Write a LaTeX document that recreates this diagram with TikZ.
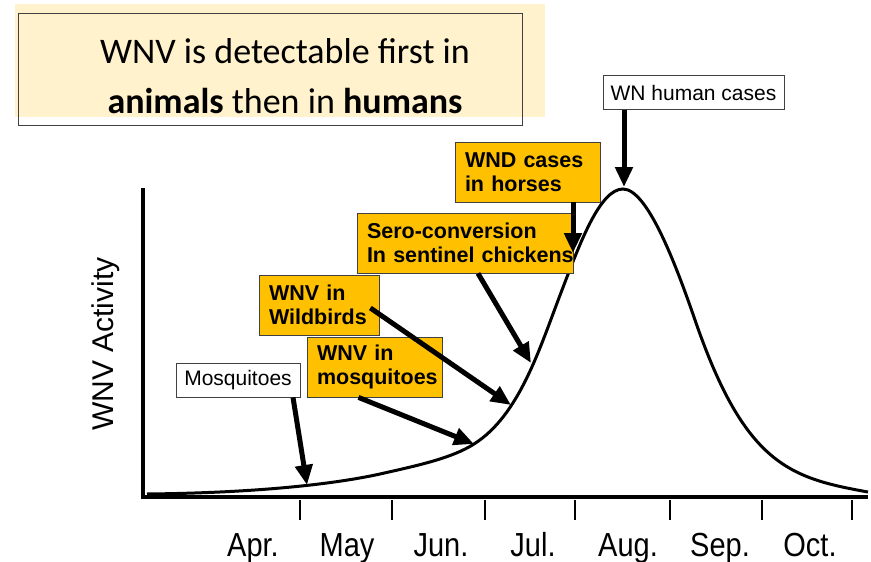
\documentclass[tikz,border=0pt]{standalone}
\usepackage{fontspec}
\setmainfont{Liberation Sans}
\newfontfamily\calibri{Carlito}
\usepackage{xcolor}
\usepackage{tikz}
\usetikzlibrary{
arrows.meta,
positioning,
calc
}
\definecolor{wnvgold}{HTML}{FFC000}
\definecolor{wnvcream}{HTML}{FFF2CC}
\definecolor{wnvedge}{HTML}{404040}

\begin{document}
\begin{tikzpicture}[
  x=1pt, y=-1pt,
  >={Triangle[length=20pt,width=17pt]},
  tag/.style={draw=wnvedge, fill=white, line width=0.8pt, minimum height=34pt, inner xsep=6pt, font=\fontsize{21}{23}\selectfont},
  alert/.style={draw=wnvedge, fill=wnvgold, line width=0.8pt, minimum height=60pt, inner xsep=10pt, align=left, font=\fontsize{21.5}{24.5}\selectfont\bfseries},
  pointer/.style={->, line width=5pt},
  axisline/.style={line width=3.5pt},
  tickmark/.style={line width=1.6pt},
  month/.style={font=\fontsize{29}{31}\selectfont, anchor=base}
]
\useasboundingbox (0,0) rectangle (871,562);

% Title
\fill[wnvcream] (15,4) rectangle (545,117);
\draw[wnvedge, line width=0.8pt] (18,13) rectangle (522,125);
\node[font=\calibri\fontsize{36}{50}\selectfont, align=center] (title) at (285,76) {WNV is detectable first in\\\textbf{animals} then in \textbf{humans}};

% Axes
\draw[axisline] (143,188) -- (143,497);
\draw[axisline] (141,497) -- (868,497);
\foreach \x in {300,392,485,575,670,762,852}
  \draw[tickmark] (\x,500) -- (\x,520);
\foreach \m/\x [count=\i] in {Apr./253, May/347, Jun./441, Jul./533, Aug./628, Sep./720, Oct./810}
  \node[month] (m\i) at (\x,556) {\scalebox{1}[1.15]{\m}};
\node[rotate=90, font=\fontsize{30}{32}\selectfont] (ylabel) at (106,344) {WNV Activity};

% Activity curve
\draw[line width=3pt] (147,494)
  .. controls (250,493) and (330,485) .. (380,474)
  .. controls (420,465) and (452,458) .. (474,444)
  .. controls (520,415) and (540,347) .. (562,290)
  .. controls (580,243) and (600,189) .. (623,189)
  .. controls (647,189) and (675,262) .. (695,320)
  .. controls (745,465) and (790,478) .. (868,492);

% Points on the curve
\coordinate (tipmosq) at (307,485);
\coordinate (tipvirus) at (474,444);
\coordinate (tipbirds) at (511,405);
\coordinate (tipsero) at (531,363);
\coordinate (tiphorse) at (573,253);
\coordinate (tiphuman) at (624,187);

% Boxes
\node[tag, minimum width=124pt] (mosq) at (238,380) {Mosquitoes};
\node[tag, minimum width=181pt] (human) at (693.5,92.5) {WN human cases};
\node[alert, text width=100pt] (birds) at (319,305) {WNV in\\Wildbirds};
\node[alert, text width=115pt] (virus) at (374.5,367) {WNV in\\mosquitoes};
\node[alert, text width=196pt] (sero) at (465,243) {Sero-conversion\\\mbox{In sentinel chickens}};
\node[alert, text width=125pt] (horse) at (527.5,172) {WND cases\\in horses};

% Pointers
\draw[pointer] ([xshift=55pt]mosq.south) -- (tipmosq);
\draw[pointer] ([xshift=-16pt]virus.south) -- (tipvirus);
\draw[pointer] ([xshift=-9pt,yshift=-3pt]birds.east) -- (tipbirds);
\draw[pointer] ([xshift=13pt]sero.south) -- (tipsero);
\draw[pointer] ([xshift=45.5pt]horse.south) -- (tiphorse);
\draw[pointer] ([xshift=-69.5pt]human.south) -- (tiphuman);

\end{tikzpicture}
\end{document}
